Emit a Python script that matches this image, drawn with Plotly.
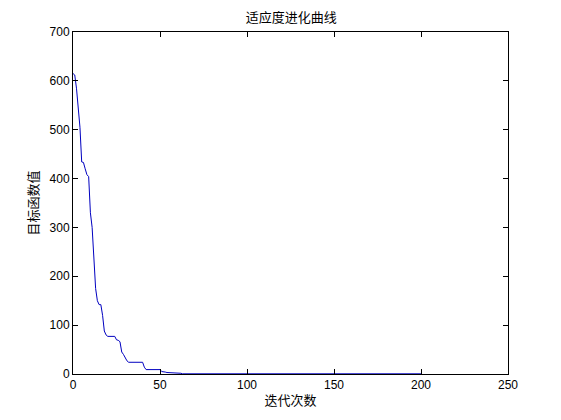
import plotly.graph_objects as go

# best objective value per iteration (vertices)
iters = [0, 1, 2, 3, 4, 5, 6, 7, 8, 9, 10, 11, 12, 13, 14, 15, 16, 17, 18, 19,
         20, 24, 25, 26, 27, 28, 29, 30, 31, 32, 40, 41, 42, 50, 51, 53, 54,
         62, 63, 200]
best_vals = [615, 612, 585, 545, 505, 434, 433, 420, 408, 404, 330, 300, 240,
             175, 150, 142, 142, 120, 88, 80, 77, 77, 70, 69, 66, 45, 40, 33,
             27, 24, 24, 14, 9, 9, 5, 4, 3, 1.5, 0.4, 0.4]

x_ticks = [0, 50, 100, 150, 200, 250]
y_ticks = [0, 100, 200, 300, 400, 500, 600, 700]

tick_font = dict(family="Liberation Sans, Arial, sans-serif", size=12, color="black")
cjk = "Noto Sans CJK SC"

fig = go.Figure()
fig.add_trace(go.Scatter(x=iters, y=best_vals, mode="lines",
                         line=dict(color="#0000c0", width=1), showlegend=False))

axis_common = dict(showgrid=False, zeroline=False, showline=True, linecolor="black",
                   linewidth=1, mirror="allticks", ticks="inside", ticklen=5,
                   tickcolor="black", tickfont=tick_font, automargin=False)

fig.update_xaxes(range=[0, 250], tickvals=x_ticks,
                 title=dict(text="迭代次数", font=dict(family=cjk, size=13, color="black"),
                            standoff=4),
                 **axis_common)
fig.update_yaxes(range=[0, 700], tickvals=y_ticks,
                 title=dict(text="目标函数值", font=dict(family=cjk, size=13, color="black"),
                            standoff=8),
                 **axis_common)

# page body has an 8px margin, so the figure is a bit smaller than the window
fig.update_layout(
    width=553, height=412,
    margin=dict(l=65, r=53, t=24, b=46),
    paper_bgcolor="white", plot_bgcolor="white",
    title=dict(text="适应度进化曲线", x=0.512, xanchor="center", y=0.977, yanchor="middle",
               font=dict(family=cjk, size=13, color="black")),
)

fig.write_html("out.html")
